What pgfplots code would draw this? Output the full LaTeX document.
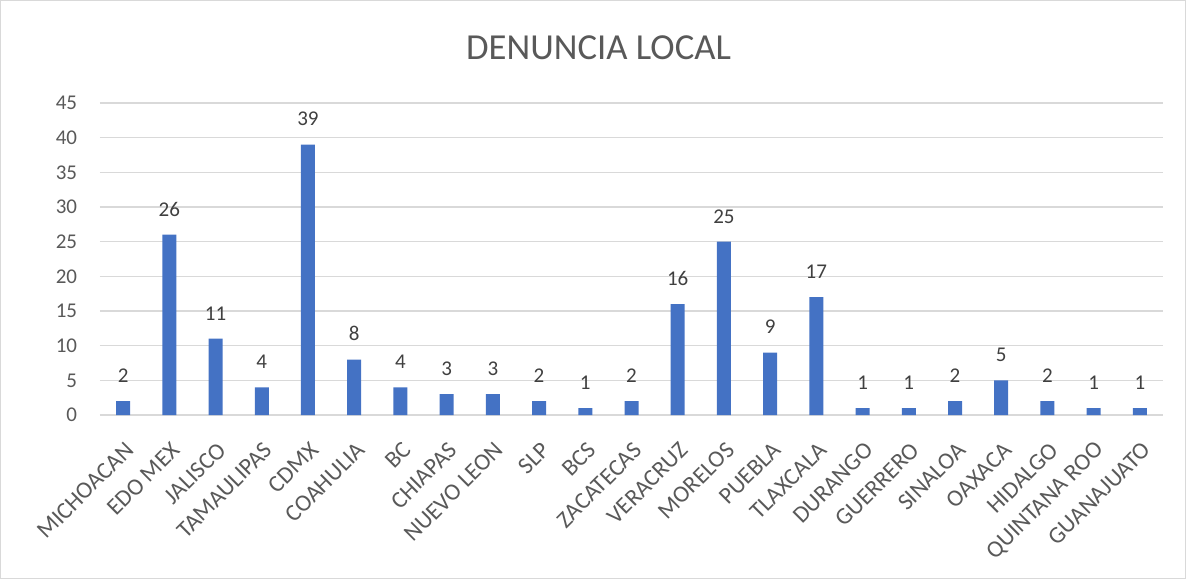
\documentclass[border=0pt]{standalone}
\usepackage{pgfplots}
\pgfplotsset{compat=1.18}
\usepackage{fontspec}
\setmainfont{Carlito}
\definecolor{barblue}{HTML}{4472C4}
\definecolor{txtgray}{HTML}{595959}
\definecolor{lblgray}{HTML}{404040}
\definecolor{gridgray}{HTML}{D9D9D9}
\definecolor{framegray}{HTML}{D9D9D9}
\begin{document}
\begin{tikzpicture}
\draw[framegray, line width=0.75pt] (0.375pt,0.375pt) rectangle (889.125pt,433.875pt);
\node[anchor=base, text=txtgray, font=\fontsize{27.5}{31}\selectfont, inner sep=0pt] at (448.9pt,389.8pt) {DENUNCIA LOCAL};
\begin{axis}[
  at={(75pt,123pt)}, anchor=south west,
  scale only axis,
  width=797.25pt, height=234pt,
  xmin=-0.5, xmax=22.5,
  ymin=0, ymax=45,
  ytick={0,5,...,45},
  xtick={0,...,22},
  xticklabels={MICHOACAN,EDO MEX,JALISCO,TAMAULIPAS,CDMX,COAHULIA,BC,CHIAPAS,NUEVO LEON,SLP,BCS,ZACATECAS,VERACRUZ,MORELOS,PUEBLA,TLAXCALA,DURANGO,GUERRERO,SINALOA,OAXACA,HIDALGO,QUINTANA ROO,GUANAJUATO},
  major tick length=0pt,
  axis line style={draw=none},
  ymajorgrids,
  grid style={gridgray, line width=0.9pt},
  /pgf/number format/assume math mode=true,
  tick label style={text=txtgray, font=\fontsize{15.75}{18}\selectfont},
  yticklabel style={anchor=east, inner sep=0pt, xshift=-17pt},
  xticklabel style={anchor=east, inner sep=0pt, xshift=5pt, yshift=-23.5pt, rotate=45, font=\fontsize{17.8}{20}\selectfont},
  ybar, bar width=10.5pt,
  nodes near coords,
  every node near coord/.append style={anchor=base, inner sep=0pt, yshift=14pt, text=lblgray, font=\fontsize{15.75}{18}\selectfont},
  clip=false,
]
\addplot[fill=barblue, draw=none] coordinates {
(0,2) (1,26) (2,11) (3,4) (4,39) (5,8) (6,4) (7,3) (8,3) (9,2) (10,1) (11,2)
(12,16) (13,25) (14,9) (15,17) (16,1) (17,1) (18,2) (19,5) (20,2) (21,1) (22,1)
};
\end{axis}
\end{tikzpicture}
\end{document}
